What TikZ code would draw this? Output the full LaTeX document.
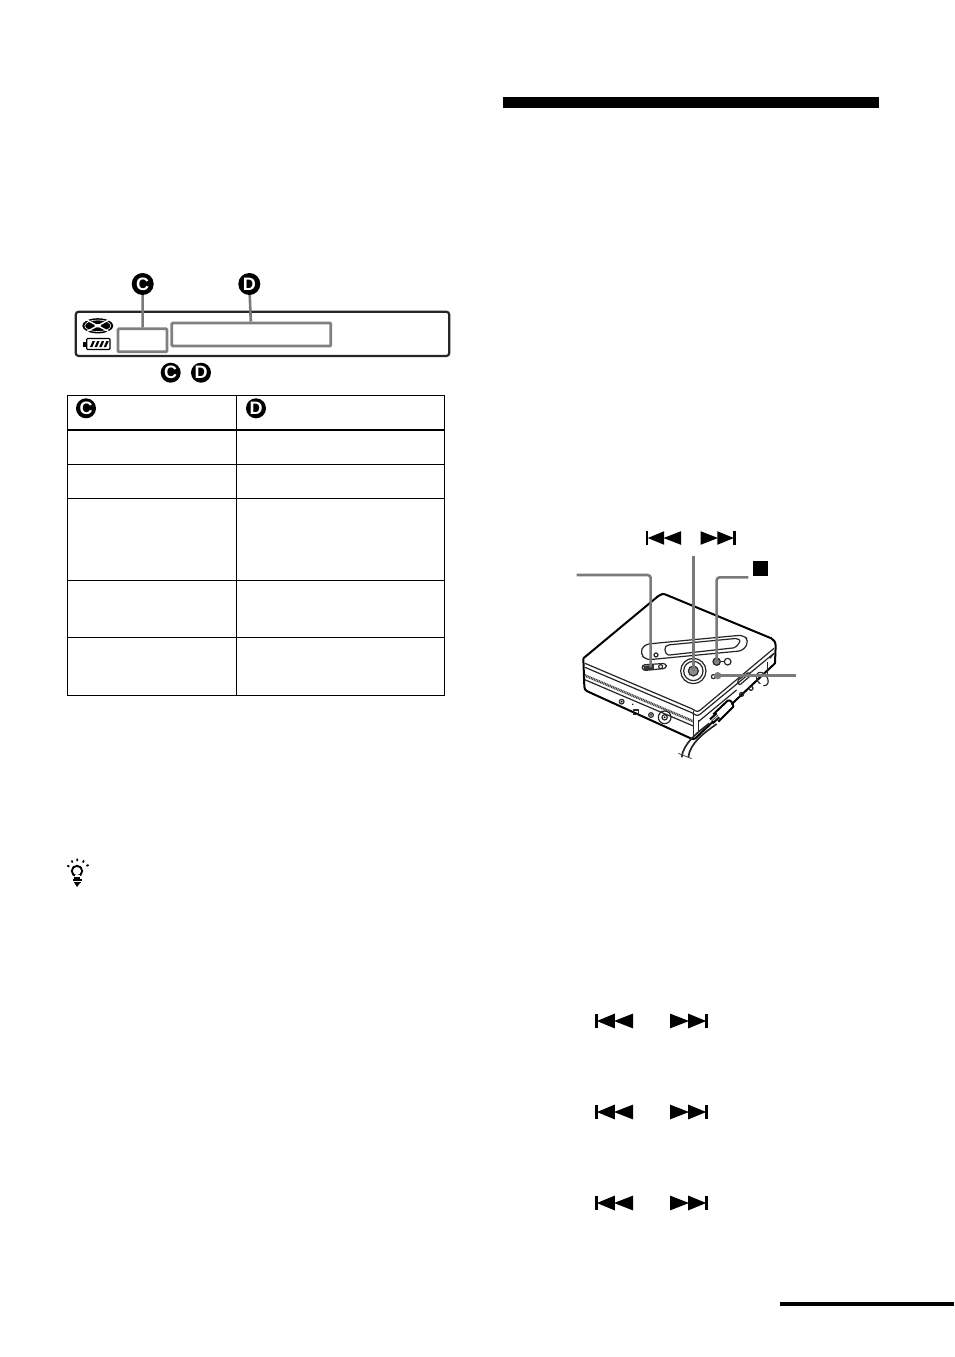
\documentclass[tikz,border=0pt]{standalone}
\usepackage{fontspec}
\setmainfont{Liberation Sans}
\usetikzlibrary{calc}
\tikzset{
  badge/.style={circle,fill=black,text=white,inner sep=0pt,minimum size=#1,font=\bfseries\fontsize{18}{18}\selectfont},
  leader/.style={draw=black!52,line width=2.6pt},
  grayframe/.style={draw=black!50,line width=2.8pt,inner sep=0pt,rounded corners=1pt},
  rule/.style={line width=1pt,black},
  heavy/.style={line width=2.4pt,black},
  devline/.style={line width=1.2pt,black!85,line join=round},
  devthick/.style={line width=2pt,black,line join=round},
  devthin/.style={line width=0.8pt,black!75,line join=round},
}
% left x, right x, mid y, width, half height
\newcommand{\prevnext}[5]{%
 \fill[black] (#1,#3-#5) rectangle (#1+0.07*#4,#3+#5);
 \fill[black] (#1+0.05*#4,#3) -- (#1+0.52*#4,#3-#5) -- (#1+0.52*#4,#3+#5) -- cycle;
 \fill[black] (#1+0.5*#4,#3) -- (#1+#4,#3-#5) -- (#1+#4,#3+#5) -- cycle;
 \fill[black] (#2,#3-#5) -- (#2+0.5*#4,#3) -- (#2,#3+#5) -- cycle;
 \fill[black] (#2+0.48*#4,#3-#5) -- (#2+0.95*#4,#3) -- (#2+0.48*#4,#3+#5) -- cycle;
 \fill[black] (#2+0.93*#4,#3-#5) rectangle (#2+#4,#3+#5);
}
\begin{document}
\begin{tikzpicture}[x=1pt,y=-1pt]
\useasboundingbox[fill=white] (0,0) rectangle (954,1357);

% heavy bars
\fill[black] (503,97) rectangle (879,108);
\fill[black] (780,1302) rectangle (954,1305.5);

% display
\draw[line width=2.2pt,black!85,rounded corners=3pt] (75.7,311.7) rectangle (449.3,356);
\node[grayframe,minimum width=49pt,minimum height=23pt] (rc) at (142.5,340.3) {};
\node[grayframe,minimum width=159pt,minimum height=23pt] (rd) at (251.3,334.5) {};
\node[badge=22pt] (c1) at (142.7,284) {C};
\node[badge=22pt] (d1) at (249.3,284) {D};
\draw[leader] (c1) -- (rc);
\draw[leader] (d1) -- (rd);
\node[badge=20pt] (c2) at (170.7,372.7) {C};
\node[badge=20pt] (d2) at (201,372.7) {D};

% disc icon
\fill[black] (97.8,325.8) ellipse (15.5pt and 7.6pt);
\draw[white,line width=1.4pt] (85,319) -- (110.5,332.5) (85,332.5) -- (110.5,319);
\draw[white,line width=0.6pt] (97.8,325.8) ellipse (13pt and 5.8pt);
\fill[white] (97.8,325.8) ellipse (3.4pt and 1.7pt);
% battery icon
\draw[line width=1.1pt,black,rounded corners=1pt] (86.7,338.5) rectangle (110,349.5);
\fill[black] (82.5,341.7) rectangle (86,346.7);
\foreach \bx in {90,94.6,99.2,103.8}{\fill[black] (\bx,347) -- (\bx+2.6,341) -- (\bx+5,341) -- (\bx+2.4,347) -- cycle;}

% table
\coordinate (tl) at (67.5,395);
\coordinate (tr) at (444,395);
\coordinate (bl) at (67.5,695);
\coordinate (br) at (444,695);
\coordinate (tm) at (236.7,395);
\coordinate (bm) at (236.7,695);
\draw[rule] (tl) -- (tr) -- (br) -- (bl) -- cycle;
\draw[rule] (tm) -- (bm);
\draw[heavy] (67.5,430) -- (444,430);
\foreach \ty in {464,498,580,637}{\draw[rule] (67.5,\ty) -- (444,\ty);}
\node[badge=20pt] (c3) at (86,408.3) {C};
\node[badge=20pt] (d3) at (256,408.3) {D};

% tip icon
\draw[black,line width=1.9pt] (77,871) circle (5.2pt);
\fill[white] (74.5,875) rectangle (79.5,878);
\draw[black,line width=1.7pt] (74,877.8) -- (80,877.8) (73,880.2) -- (82,880.2) (74,882.6) -- (81,882.6);
\fill[black] (74.5,883) -- (80,883) -- (77,887) -- cycle;
\draw[black,line width=1.7pt] (69.3,866.7) -- (67.3,865.5) (72.7,862.5) -- (71.5,860.5) (77.3,861) -- (77.3,858.5) (82.7,862.5) -- (84,860.5) (86.5,866) -- (88.5,864.8);

% icons for skip
\prevnext{646}{700.5}{538}{35}{6.8}
\prevnext{595}{670}{1021}{38}{7.4}
\prevnext{595}{670}{1112}{38}{7.4}
\prevnext{595}{670}{1203}{38}{7.4}
\node[fill=black,minimum size=14.5pt,inner sep=0pt] (stopbtn) at (760.5,568.5) {};

% device
\begin{scope}[shift={(570,520)},x=0.3333pt,y=-0.3333pt]
  % outline
  \draw[devthick] (40,415) -- (265,228) .. controls (272,222) and (280,220) .. (290,225) -- (604,355) .. controls (612,359) and (617,367) .. (617,378) -- (615,430) -- (376,655) .. controls (372,658) and (368,658) .. (362,655) -- (52,514) .. controls (46,511) and (43,507) .. (43,500) -- (40,415);
  \draw[devline] (45,430) -- (365,566) .. controls (374,570) and (380,579) .. (390,571) -- (612,385);
  \draw[devline] (45,442) -- (365,578) .. controls (374,582) and (380,591) .. (390,583) -- (612,400);
  \draw[devline,dash pattern=on 1pt off 0.7pt,line width=2.6pt,black!75] (44,466) -- (370,604);
  \draw[devline] (44,479) -- (370,618);
  \draw[devline] (370,572) -- (370,655);
  \draw[devline] (385,600) -- (385,640);
  \draw[devline] (385,605) -- (500,510);
  % right side
  \draw[devline] (592,425) -- (592,465);
  \draw[devline] (600,415) -- (612,400);
  \draw[devline,rotate around={-55:(577,477)}] (577,477) ellipse (22 and 15);
  \fill[white] (556,492) -- (585,492) -- (560,512) -- cycle;
  \draw[devline,rounded corners=2pt] (500,484) -- (536,456) -- (543,466) -- (508,496) -- cycle;
  \draw[devline] (515,523) circle (6) (543,505) circle (6);
  % lower panel details
  \draw[devline] (155,545) circle (7);
  \fill[black] (155,545) circle (3);
  \fill[black] (188,553) circle (2.4);
  \draw[devline] (190,570) rectangle (205,584);
  \draw[devline] (243,585) circle (7);
  \fill[black] (243,585) circle (3);
  \draw[devline] (284,592) circle (19) (284,592) circle (8);
  \fill[black] (284,592) circle (3);
  % display window
  \draw[devline,rounded corners=5pt] (210,400) -- (222,373) -- (520,345) -- (537,362) -- (520,392) -- (228,420) -- cycle;
  \draw[devline,rounded corners=2pt] (283,383) -- (292,375) -- (502,355) -- (512,362) -- (497,383) -- (290,406) -- cycle;
  \draw[devline] (258,405) circle (6);
  % hold switch
  \draw[devline,rounded corners=3pt] (215,435) -- (288,430) -- (290,445) -- (218,452) -- cycle;
  \fill[black!80] (220,438) -- (252,434) -- (252,449) -- (222,450) -- cycle;
  \draw[devline] (272,440) circle (6);
  % jog
  \draw[devline] (370,453) circle (38);
  \draw[devline] (370,453) circle (29);
  \fill[black!45] (370,453) circle (15);
  \draw[devline] (370,453) circle (15);
  % stop and other buttons
  \draw[devline] (473,425) circle (10);
  \fill[black!50] (440,425) circle (11);
  \draw[devline] (440,425) circle (11);
  \draw[devline] (451,425) -- (463,425);
  \draw[devline] (430,470) circle (6);
  \fill[black!50] (443,467) circle (11);
  % cable + plug
  \fill[white] (425,597) -- (475,543) -- (490,560) -- (440,612) -- cycle;
  \draw[devthick] (430,583) -- (473,542) .. controls (482,538) and (488,548) .. (490,560) -- (445,605);
  \draw[devthick] (420,598) -- (440,580) (428,610) -- (448,592);
  \draw[devthin] (424,604) -- (444,586);
  \draw[devline,line width=1.7pt] (418,610) .. controls (380,640) and (340,670) .. (335,712);
  \draw[devline,line width=1.7pt] (440,612) .. controls (400,640) and (360,670) .. (355,712);
  \draw[devthin] (325,700) -- (365,716);
  % leaders
  \coordinate (holdbtn) at (242,442);
  \coordinate (jogc) at (370,453);
  \coordinate (stopc) at (440,425);
  \coordinate (playc) at (443,467);
  \coordinate (holdend) at (20,165);
  \coordinate (jogend) at (370,108);
  \coordinate (stopend) at (535,172);
  \coordinate (playend) at (678,467);
  \draw[leader,rounded corners=3pt] (holdend) -- (242,165) -- (holdbtn);
  \draw[leader] (jogend) -- (jogc);
  \draw[leader,rounded corners=3pt] (stopend) -- (440,172) -- (stopc);
  \draw[leader] (playend) -- (playc);
\end{scope}
\end{tikzpicture}
\end{document}
